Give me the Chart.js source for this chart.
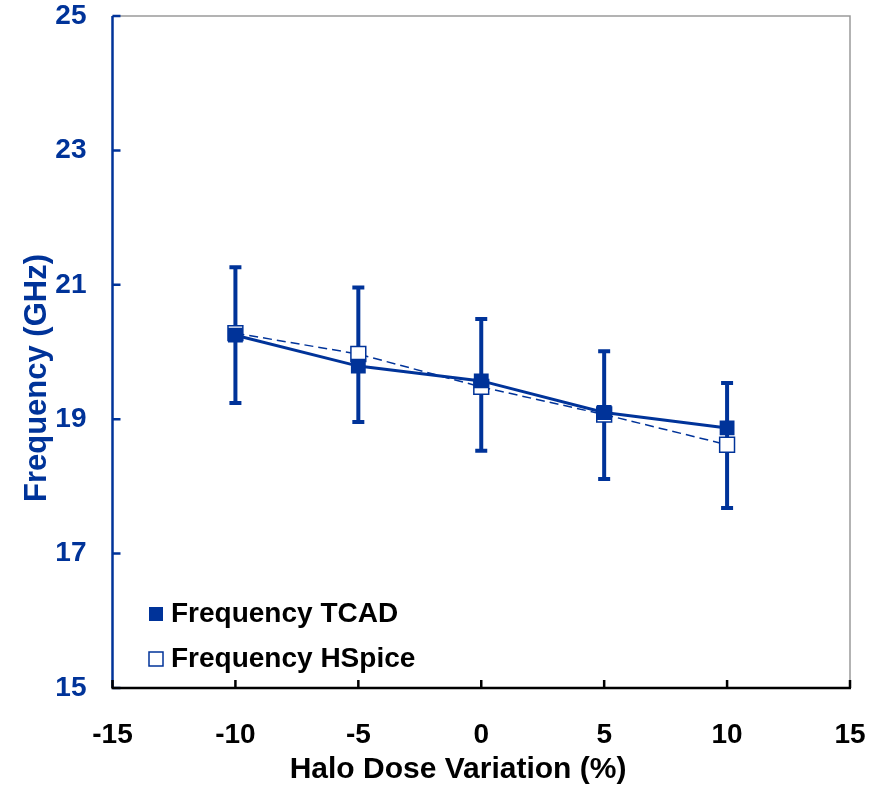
<!DOCTYPE html>
<html>
<head>
<meta charset="utf-8">
<script src="https://cdn.jsdelivr.net/npm/chart.js@4/dist/chart.umd.min.js"></script>
<style>
  body { margin: 0; background: #fff; }
  #wrap { width: 879px; height: 789px; }
</style>
</head>
<body>
<div id="wrap"><canvas id="chart"></canvas></div>
<script>
// data
var xValues = [-10, -5, 0, 5, 10];
var tcadValues = [20.25, 19.79, 19.57, 19.10, 18.87];
var hspiceValues = [20.28, 19.97, 19.48, 19.07, 18.62];
var tcadErrHigh = [21.26, 20.96, 20.49, 20.01, 19.54];
var tcadErrLow = [19.24, 18.96, 18.53, 18.11, 17.68];
var xTicks = [-15, -10, -5, 0, 5, 10, 15];
var yTicks = [15, 17, 19, 21, 23, 25];
var seriesNames = ["Frequency TCAD", "Frequency HSpice"];
var xTitle = "Halo Dose Variation (%)";
var yTitle = "Frequency (GHz)";

var BLUE = "#003399";
var FONT = '"Liberation Sans", Arial, sans-serif';

function toPoints(ys) {
    var pts = [];
    for (var i = 0; i < xValues.length; i++) pts.push({ x: xValues[i], y: ys[i] });
    return pts;
}

// error bars, frame, ticks, titles and legend
var decor = {
    id: "decor",
    beforeDatasetsDraw: function (chart) {
        var ctx = chart.ctx, xs = chart.scales.x, ys = chart.scales.y;
        ctx.save();
        ctx.strokeStyle = BLUE;
        ctx.lineWidth = 4;
        for (var i = 0; i < xValues.length; i++) {
            var px = xs.getPixelForValue(xValues[i]);
            var top = ys.getPixelForValue(tcadErrHigh[i]);
            var bot = ys.getPixelForValue(tcadErrLow[i]);
            ctx.beginPath();
            ctx.moveTo(px, top); ctx.lineTo(px, bot);
            ctx.moveTo(px - 6, top); ctx.lineTo(px + 6, top);
            ctx.moveTo(px - 6, bot); ctx.lineTo(px + 6, bot);
            ctx.stroke();
        }
        ctx.restore();
    },
    afterDraw: function (chart) {
        var ctx = chart.ctx, a = chart.chartArea;
        var xs = chart.scales.x, ys = chart.scales.y;
        ctx.save();

        // top / right frame
        ctx.strokeStyle = "#9a9a9a";
        ctx.lineWidth = 1.5;
        ctx.beginPath();
        ctx.moveTo(a.left, a.top); ctx.lineTo(a.right, a.top); ctx.lineTo(a.right, a.bottom);
        ctx.stroke();

        // y axis
        ctx.strokeStyle = BLUE;
        ctx.lineWidth = 2.5;
        ctx.beginPath();
        ctx.moveTo(a.left, a.top); ctx.lineTo(a.left, a.bottom);
        yTicks.forEach(function (v) {
            var py = ys.getPixelForValue(v);
            ctx.moveTo(a.left, py); ctx.lineTo(a.left + 8, py);
        });
        ctx.stroke();

        // x axis
        ctx.strokeStyle = "#000";
        ctx.beginPath();
        ctx.moveTo(a.left - 1, a.bottom); ctx.lineTo(a.right + 1, a.bottom);
        xTicks.forEach(function (v) {
            var px = xs.getPixelForValue(v);
            ctx.moveTo(px, a.bottom); ctx.lineTo(px, a.bottom - 8);
        });
        ctx.stroke();

        // axis titles
        ctx.textAlign = "center";
        ctx.textBaseline = "middle";
        ctx.fillStyle = "#000";
        ctx.font = "bold 30px " + FONT;
        ctx.fillText(xTitle, 458, 770);
        ctx.save();
        ctx.translate(37, 378);
        ctx.rotate(-Math.PI / 2);
        ctx.fillStyle = BLUE;
        ctx.font = "bold 31px " + FONT;
        ctx.fillText(yTitle, 0, 0);
        ctx.restore();

        // legend inside the plot
        ctx.font = "bold 28px " + FONT;
        ctx.textAlign = "left";
        ctx.fillStyle = BLUE;
        ctx.fillRect(149, 607, 14, 14);
        ctx.fillStyle = "#fff";
        ctx.fillRect(149, 652, 14, 14);
        ctx.strokeStyle = BLUE;
        ctx.lineWidth = 1.5;
        ctx.strokeRect(149, 652, 14, 14);
        ctx.fillStyle = "#000";
        ctx.fillText(seriesNames[0], 171, 614);
        ctx.fillText(seriesNames[1], 171, 659);

        ctx.restore();
    }
};

new Chart(document.getElementById("chart"), {
    type: "scatter",
    data: {
        datasets: [
            {
                label: seriesNames[0],
                data: toPoints(tcadValues),
                showLine: true,
                borderColor: BLUE,
                borderWidth: 3,
                backgroundColor: BLUE,
                pointStyle: "rect",
                pointRadius: 10.5,
                pointBorderWidth: 0,
                pointBackgroundColor: BLUE
            },
            {
                label: seriesNames[1],
                data: toPoints(hspiceValues),
                showLine: true,
                borderColor: BLUE,
                borderWidth: 1.5,
                borderDash: [9, 5],
                backgroundColor: "#fff",
                pointStyle: "rect",
                pointRadius: 10.5,
                pointBorderWidth: 1.5,
                pointBackgroundColor: "#fff",
                pointBorderColor: BLUE
            }
        ]
    },
    options: {
        responsive: true,
        maintainAspectRatio: false,
        animation: false,
        layout: { padding: { top: 16, right: 29, left: 0, bottom: 0 } },
        plugins: { legend: { display: false }, tooltip: { enabled: false } },
        scales: {
            x: {
                type: "linear",
                min: -15, max: 15,
                afterBuildTicks: function (s) { s.ticks = xTicks.map(function (v) { return { value: v }; }); },
                afterFit: function (s) { s.height = 101; s.paddingLeft = 0; s.paddingRight = 0; },
                grid: { display: false, drawTicks: false },
                border: { display: false },
                ticks: { color: "#000", padding: 30, font: { family: FONT, size: 28, weight: "bold" } }
            },
            y: {
                type: "linear",
                min: 15, max: 25,
                afterBuildTicks: function (s) { s.ticks = yTicks.map(function (v) { return { value: v }; }); },
                afterFit: function (s) { s.width = 112.5; s.paddingTop = 0; s.paddingBottom = 0; },
                grid: { display: false, drawTicks: false },
                border: { display: false },
                ticks: { color: BLUE, padding: 26, font: { family: FONT, size: 28, weight: "bold" } }
            }
        }
    },
    plugins: [decor]
});
</script>
</body>
</html>
